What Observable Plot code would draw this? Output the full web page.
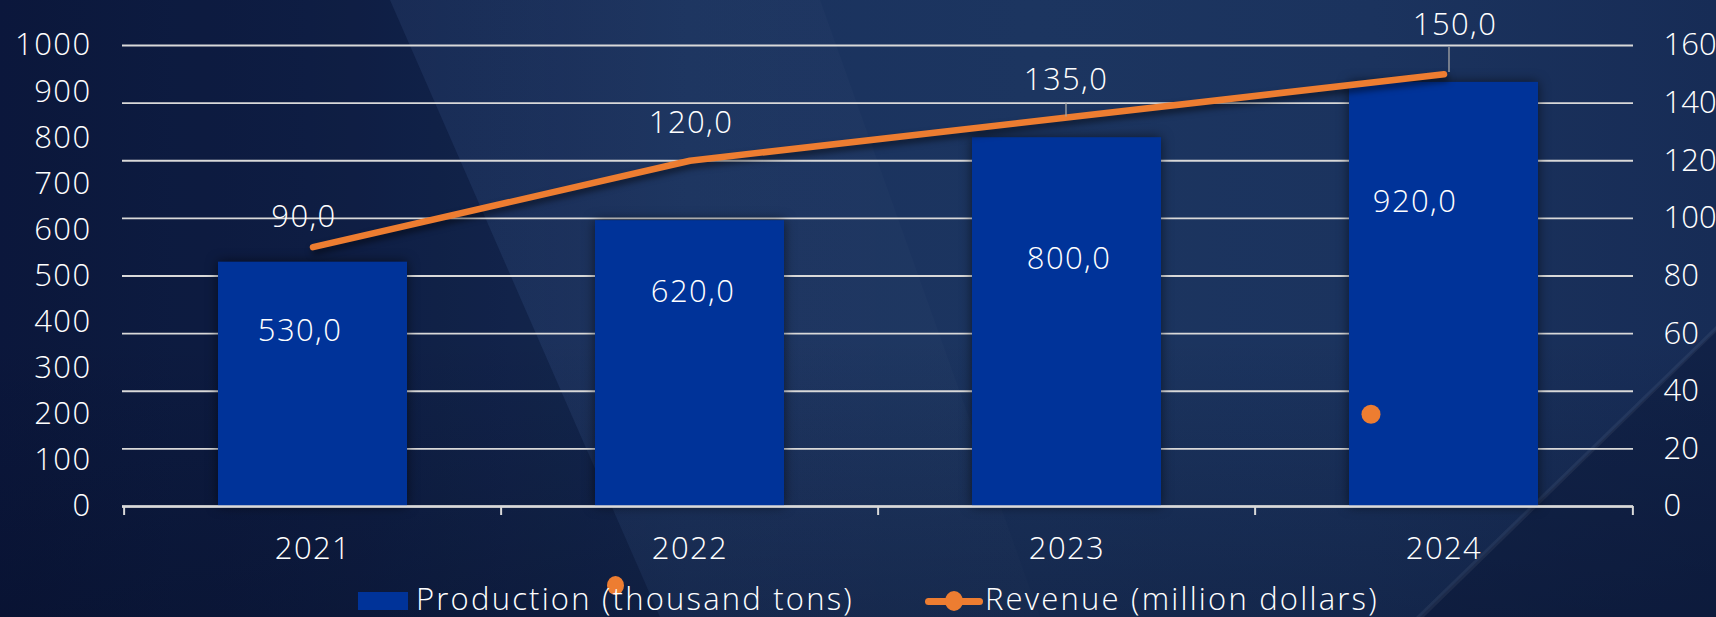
<!DOCTYPE html>
<html>
<head>
<meta charset="utf-8">
<script src="https://cdn.jsdelivr.net/npm/d3@7"></script>
<script src="https://cdn.jsdelivr.net/npm/@observablehq/plot@0.6"></script>
<style>
  html, body { margin: 0; padding: 0; width: 1716px; height: 617px; overflow: hidden; }
  body { position: relative; font-family: "Open Sans", sans-serif; color: #fff;
    background: linear-gradient(90deg, #0e1c44 0%, #11234d 18%, #1a325e 40%, #1c3560 60%, #1b335e 80%, #172c56 100%); }
  .bg { position: absolute; left: 0; top: 0; width: 1716px; height: 617px; pointer-events: none; }
  #bgDark { background: rgba(4, 10, 32, 0.22); clip-path: polygon(0 0, 390px 0, 660px 617px, 0 617px); }
  #bgWedge { background: linear-gradient(90deg, rgba(255,255,255,0.03), rgba(255,255,255,0.0)); clip-path: polygon(390px 0, 820px 0, 1040px 617px, 660px 617px); }
  #bgBottom { background: linear-gradient(0deg, rgba(4, 10, 32, 0.30) 0%, rgba(4, 10, 32, 0) 45%); }
  #bgCorner { background: rgba(6, 14, 42, 0.35); clip-path: polygon(1716px 330px, 1716px 617px, 1420px 617px); }
  #bgStreak { background: rgba(255, 255, 255, 0.06); clip-path: polygon(1716px 326px, 1716px 332px, 1424px 617px, 1416px 617px); }
  #chart { position: absolute; left: 0; top: 0; }
  #chart svg { display: block; overflow: visible; font-weight: 300; }
  #chart svg text { letter-spacing: 1.4px; }
  #chart svg text.nospace { letter-spacing: 0; }
  #chart g[aria-label="bar"] rect { filter: drop-shadow(0 0 6px rgba(0, 0, 0, 0.55)); }
  #chart g[aria-label="line"] path { filter: drop-shadow(2px 4px 3px rgba(0, 0, 0, 0.5)); }
  #legend { position: absolute; left: 0; top: 575px; width: 1716px; height: 42px; }
  #legend .sw { position: absolute; }
  #legend .lt { position: absolute; top: 8px; font-size: 31px; line-height: 31px; white-space: nowrap; color: #fff; font-weight: 300; letter-spacing: 2.2px; }
</style>
</head>
<body>
<div class="bg" id="bgDark"></div>
<div class="bg" id="bgWedge"></div>
<div class="bg" id="bgBottom"></div>
<div class="bg" id="bgCorner"></div>
<div class="bg" id="bgStreak"></div>
<div id="chart"></div>
<div id="legend"></div>
<script>
// ---- data ----
const years = ["2021", "2022", "2023", "2024"];
const production = [530, 620, 800, 920];      // thousand tons (left axis)
const revenue = [90, 120, 135, 150];          // million dollars (right axis)
const leftTicks = [0, 100, 200, 300, 400, 500, 600, 700, 800, 900, 1000];
const rightTicks = [0, 20, 40, 60, 80, 100, 120, 140, 160];
const seriesNames = ["Production (thousand tons)", "Revenue (million dollars)"];
const strayMarkerValue = 32;                  // stray revenue marker drawn inside the 2024 bar

// ---- layout / style ----
const W = 1716, H = 575, ML = 122, MR = 83, MT = 45, MB = 69;
const leftMax = leftTicks[leftTicks.length - 1];
const rightMax = rightTicks[rightTicks.length - 1];
const k = leftMax / rightMax;
const pIn = 0.5, pOut = 0.25;
const step = (W - ML - MR) / (years.length - pIn + 2 * pOut);
const barColor = "#003399", lineColor = "#ED7D31", gridColor = "#d9d9d9";
const FS = 31;
const fmt = v => v.toFixed(1).replace(".", ",");
const tickLen = 9 * leftMax / (H - MT - MB);

const rows = years.map((y, i) => ({year: y, production: production[i], revenue: revenue[i]}));
const gridValues = rightTicks.map(v => v * k);

// label nudges (px) as placed in the original
const barLabelNudge = [[-13, 69], [3, 71], [2, 121], [-29, 120]];
const lineLabelNudge = [[-9, -30], [1, -38], [-1, -37], [11, -49]];
const leaders = [
  {year: "2023", from: 135.2, to: 139.9, dx: -1},
  {year: "2024", from: 150.6, to: 159.3, dx: 5}
];

const marks = [
  Plot.ruleY(gridValues, {stroke: gridColor, strokeWidth: 1.8}),
  Plot.barY(rows, {x: "year", y: "production", fill: barColor}),
  Plot.ruleY([0], {stroke: gridColor, strokeWidth: 2.5}),
  Plot.ruleX(years, {x: d => d, dx: -step / 2, y1: 0, y2: -tickLen, stroke: gridColor, strokeWidth: 2}),
  Plot.ruleX([years[years.length - 1]], {x: d => d, dx: step / 2, y1: 0, y2: -tickLen, stroke: gridColor, strokeWidth: 2}),
  Plot.dot([{year: years[3], v: strayMarkerValue}], {x: "year", y: d => d.v * k, r: 9.5, fill: lineColor, dx: -73}),
  Plot.line(rows, {x: "year", y: d => d.revenue * k, stroke: lineColor, strokeWidth: 6.5, strokeLinecap: "round", strokeLinejoin: "round"}),
  ...leaders.map(l => Plot.ruleX([l], {x: "year", y1: d => d.from * k, y2: d => d.to * k, dx: l.dx, stroke: "#a6a6a6", strokeWidth: 1.3})),
  ...rows.map((r, i) => Plot.text([r], {x: "year", y: "production", text: d => fmt(d.production), fill: "#fff", fontSize: FS, dx: barLabelNudge[i][0], dy: barLabelNudge[i][1]})),
  ...rows.map((r, i) => Plot.text([r], {x: "year", y: d => d.revenue * k, text: d => fmt(d.revenue), fill: "#fff", fontSize: FS, dx: lineLabelNudge[i][0], dy: lineLabelNudge[i][1]})),
  Plot.axisY(leftTicks, {anchor: "left", tickSize: 0, tickPadding: 31, fontSize: FS, label: null, tickFormat: d => String(d)}),
  Plot.axisY(gridValues, {anchor: "right", tickSize: 0, tickPadding: 30, fontSize: FS, label: null, tickFormat: d => String(Math.round(d / k))}),
  Plot.axisX({tickSize: 0, tickPadding: 30, fontSize: FS, label: null})
];

const chart = Plot.plot({
  width: W, height: H,
  marginLeft: ML, marginRight: MR, marginTop: MT, marginBottom: MB,
  x: {type: "band", domain: years, paddingInner: pIn, paddingOuter: pOut, label: null},
  y: {domain: [0, leftMax], label: null},
  style: {background: "transparent", color: "#fff", fontFamily: "'Open Sans', sans-serif", fontSize: FS + "px", overflow: "visible"},
  marks
});
document.getElementById("chart").appendChild(chart);
// right-hand axis labels keep normal spacing so they fit inside the page
d3.select(chart).selectAll("text").filter(function () {
  const g = this.closest("g");
  return g && g.getAttribute("text-anchor") === "start" && /y-axis/.test(g.getAttribute("aria-label") || "");
}).classed("nospace", true);

// ---- legend ----
const legend = document.getElementById("legend");
legend.innerHTML = `
  <div class="sw" style="left:607px;top:1px;width:17px;height:19px;border-radius:50%;background:${lineColor}"></div>
  <div class="sw" style="left:358px;top:17px;width:50px;height:18px;background:${barColor}"></div>
  <div class="lt" style="left:416px">${seriesNames[0]}</div>
  <div class="sw" style="left:925px;top:23px;width:58px;height:7px;border-radius:4px;background:${lineColor}"></div>
  <div class="sw" style="left:945px;top:16px;width:18px;height:20px;border-radius:50%;background:${lineColor}"></div>
  <div class="lt" style="left:985px">${seriesNames[1]}</div>
`;
</script>
</body>
</html>
